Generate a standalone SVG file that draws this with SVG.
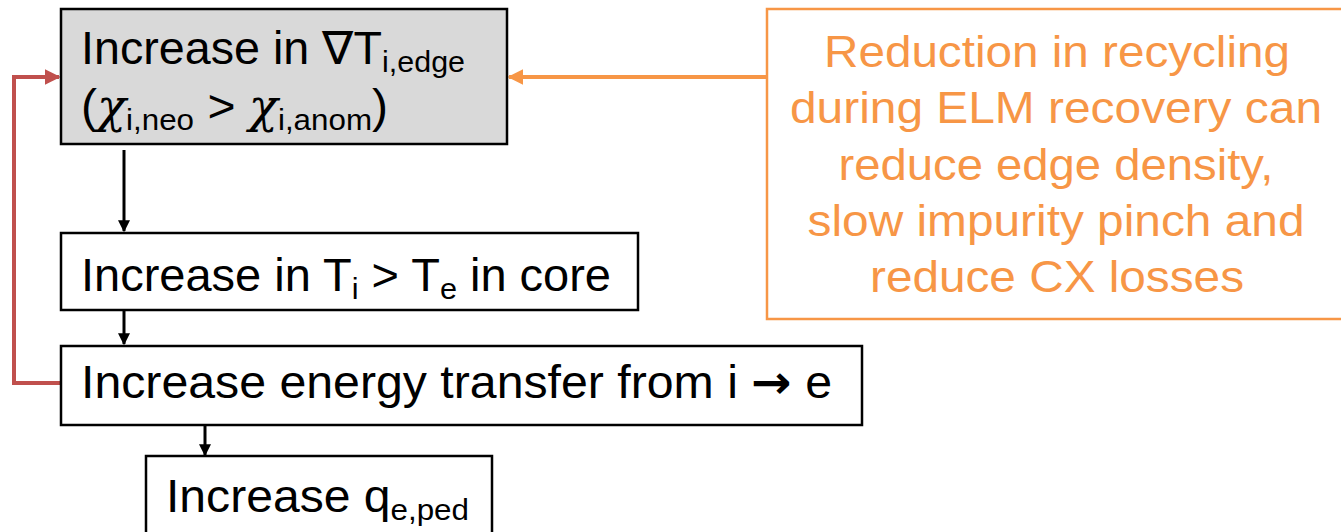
<svg xmlns="http://www.w3.org/2000/svg" width="1341" height="532" viewBox="0 0 1341 532">
<defs>
<style>
.t{font-family:"Liberation Sans",Arial,sans-serif;font-size:46px;fill:#000}
.o{font-family:"Liberation Sans",Arial,sans-serif;font-size:45px;fill:#f79646;text-anchor:middle}
.s{font-size:30px}
.g{font-family:"DejaVu Serif",serif;font-style:italic}
.box{fill:#fff;stroke:#000;stroke-width:2.5}
</style>
<marker id="ab" viewBox="0 0 10 10" refX="9" refY="5" markerWidth="4" markerHeight="4" orient="auto" markerUnits="strokeWidth"><path d="M0,0L10,5L0,10z" fill="#000"/></marker>
<marker id="ao" viewBox="0 0 10 10" refX="9" refY="5" markerWidth="4" markerHeight="4" orient="auto" markerUnits="strokeWidth"><path d="M0,0L10,5L0,10z" fill="#f79646"/></marker>
<marker id="ar" viewBox="0 0 10 10" refX="9" refY="5" markerWidth="4" markerHeight="4" orient="auto" markerUnits="strokeWidth"><path d="M0,0L10,5L0,10z" fill="#c0504d"/></marker>
</defs>
<g id="connectors">
<line x1="124" y1="150" x2="124" y2="231" stroke="#000" stroke-width="3" marker-end="url(#ab)"/>
<line x1="124" y1="311" x2="124" y2="344" stroke="#000" stroke-width="3" marker-end="url(#ab)"/>
<line x1="205" y1="426" x2="205" y2="455" stroke="#000" stroke-width="3" marker-end="url(#ab)"/>
<line x1="767" y1="77" x2="509" y2="77" stroke="#f79646" stroke-width="4" marker-end="url(#ao)"/>
<path d="M62,383H14V77H59" fill="none" stroke="#c0504d" stroke-width="4" marker-end="url(#ar)"/>
</g>
<g id="node1">
<rect x="61" y="9" width="446" height="135" fill="#d9d9d9" stroke="#000" stroke-width="2.5"/>
<text class="t" x="81" y="64" textLength="384" lengthAdjust="spacingAndGlyphs">Increase in ∇T<tspan class="s" dy="8">i,edge</tspan></text>
<text class="t" x="81" y="122" textLength="307" lengthAdjust="spacingAndGlyphs">(<tspan class="g">χ</tspan><tspan class="s" dy="8">i,neo</tspan><tspan dy="-8"> &gt; </tspan><tspan class="g">χ</tspan><tspan class="s" dy="8">i,anom</tspan><tspan dy="-8">)</tspan></text>
</g>
<g id="node2">
<rect class="box" x="61" y="233" width="577" height="77"/>
<text class="t" x="81" y="291" textLength="530" lengthAdjust="spacingAndGlyphs">Increase in T<tspan class="s" dy="8">i</tspan><tspan dy="-8"> &gt; T</tspan><tspan class="s" dy="8">e</tspan><tspan dy="-8"> in core</tspan></text>
</g>
<g id="node3">
<rect class="box" x="61" y="346" width="801" height="79"/>
<text class="t" x="81" y="398" textLength="751" lengthAdjust="spacingAndGlyphs">Increase energy transfer from i <tspan font-family="'DejaVu Sans',sans-serif" font-weight="bold">→</tspan> e</text>
</g>
<g id="node4">
<rect class="box" x="146" y="456" width="346" height="80"/>
<text class="t" x="166" y="512" textLength="303" lengthAdjust="spacingAndGlyphs">Increase q<tspan class="s" dy="8">e,ped</tspan></text>
</g>
<g id="node5">
<rect x="767" y="9" width="578" height="310" fill="#fff" stroke="#f79646" stroke-width="2.5"/>
<text class="o" x="1057" y="67" textLength="466" lengthAdjust="spacingAndGlyphs">Reduction in recycling</text>
<text class="o" x="1056" y="123" textLength="532" lengthAdjust="spacingAndGlyphs">during ELM recovery can</text>
<text class="o" x="1056" y="180" textLength="435" lengthAdjust="spacingAndGlyphs">reduce edge density,</text>
<text class="o" x="1056" y="236" textLength="497" lengthAdjust="spacingAndGlyphs">slow impurity pinch and</text>
<text class="o" x="1057" y="292" textLength="374" lengthAdjust="spacingAndGlyphs">reduce CX losses</text>
</g>
</svg>
